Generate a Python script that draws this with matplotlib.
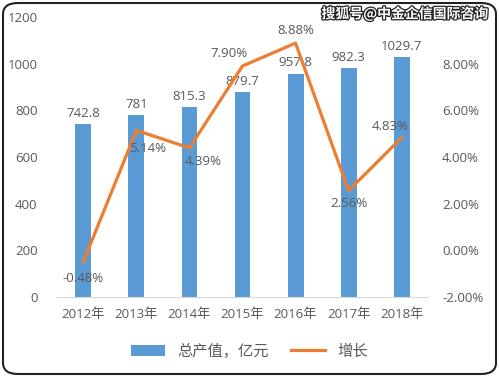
import matplotlib.pyplot as plt
import matplotlib.patheffects as pe
from matplotlib.patches import FancyBboxPatch
from matplotlib.ticker import FuncFormatter
import numpy as np

plt.rcParams['font.family'] = ['Open Sans', 'Noto Sans CJK SC', 'DejaVu Sans']

# data
years = ['2012年', '2013年', '2014年', '2015年', '2016年', '2017年', '2018年']
output = [742.8, 781, 815.3, 879.7, 957.8, 982.3, 1029.7]
growth = [-0.48, 5.14, 4.39, 7.90, 8.88, 2.56, 4.83]
output_labels = ['742.8', '781', '815.3', '879.7', '957.8', '982.3', '1029.7']

# label offsets (points) for the growth labels
growth_offsets = [(0, -12), (8, -13), (10, -10), (-10, 9), (0, 9), (0, -9), (-8, 8)]

blue = '#5B9BD5'
orange = '#ED7D31'
grey = '#595959'

fig = plt.figure(figsize=(4.99, 3.77), dpi=100)
ax = fig.add_axes([0.114, 0.212, 0.744, 0.743])
ax2 = ax.twinx()

x = np.arange(len(years))
bars = ax.bar(x, output, width=0.3, color=blue, zorder=2, label='总产值，亿元')
ax.set_ylim(0, 1200)
ax.set_xlim(-0.5, len(years) - 0.5)
ax.set_yticks(range(0, 1201, 200))
ax.set_xticks(x)
ax.set_xticklabels(years)
for i, v in enumerate(output):
    ax.annotate(output_labels[i], (x[i], v), xytext=(0, 3), textcoords='offset points',
                ha='center', va='bottom', fontsize=9.5, color=grey)

line, = ax2.plot(x, growth, color=orange, lw=2.3, zorder=3, label='增长')
ax2.set_ylim(-2, 10)
ax2.set_yticks([-2, 0, 2, 4, 6, 8])
ax2.yaxis.set_major_formatter(FuncFormatter(lambda v, p: f'{v:.2f}%'))
for i, v in enumerate(growth):
    ax2.annotate(f'{v:.2f}%', (x[i], v), xytext=growth_offsets[i], textcoords='offset points',
                 ha='center', va='center', fontsize=9.5, color=grey)

for a in (ax, ax2):
    for s in a.spines.values():
        s.set_visible(False)
    a.tick_params(length=0, colors=grey, labelsize=9.5)
ax.spines['bottom'].set_visible(True)
ax.spines['bottom'].set_color('#D9D9D9')
ax.tick_params(axis='y', pad=14)
ax.tick_params(axis='x', pad=8)
ax2.tick_params(axis='y', pad=10)

fig.legend(handles=[bars, line], labels=['总产值，亿元', '增长'], loc='center',
           bbox_to_anchor=(0.5, 0.066), ncol=2, frameon=False, fontsize=11,
           labelcolor=grey, handlelength=2.2, columnspacing=1.5)

fig.text(0.978, 0.963, '搜狐号@中金企信国际咨询', ha='right', va='center', fontsize=10,
         color='white', fontweight='bold', family=['Noto Sans CJK SC'],
         path_effects=[pe.withStroke(linewidth=1.8, foreground='#222222')])

frame = FancyBboxPatch((0.006, 0.008), 0.988, 0.984, boxstyle='round,pad=0,rounding_size=0.03',
                       transform=fig.transFigure, fill=False, edgecolor='#222222', lw=1.5)
fig.patches.append(frame)

fig.savefig('out.png', dpi=100)
